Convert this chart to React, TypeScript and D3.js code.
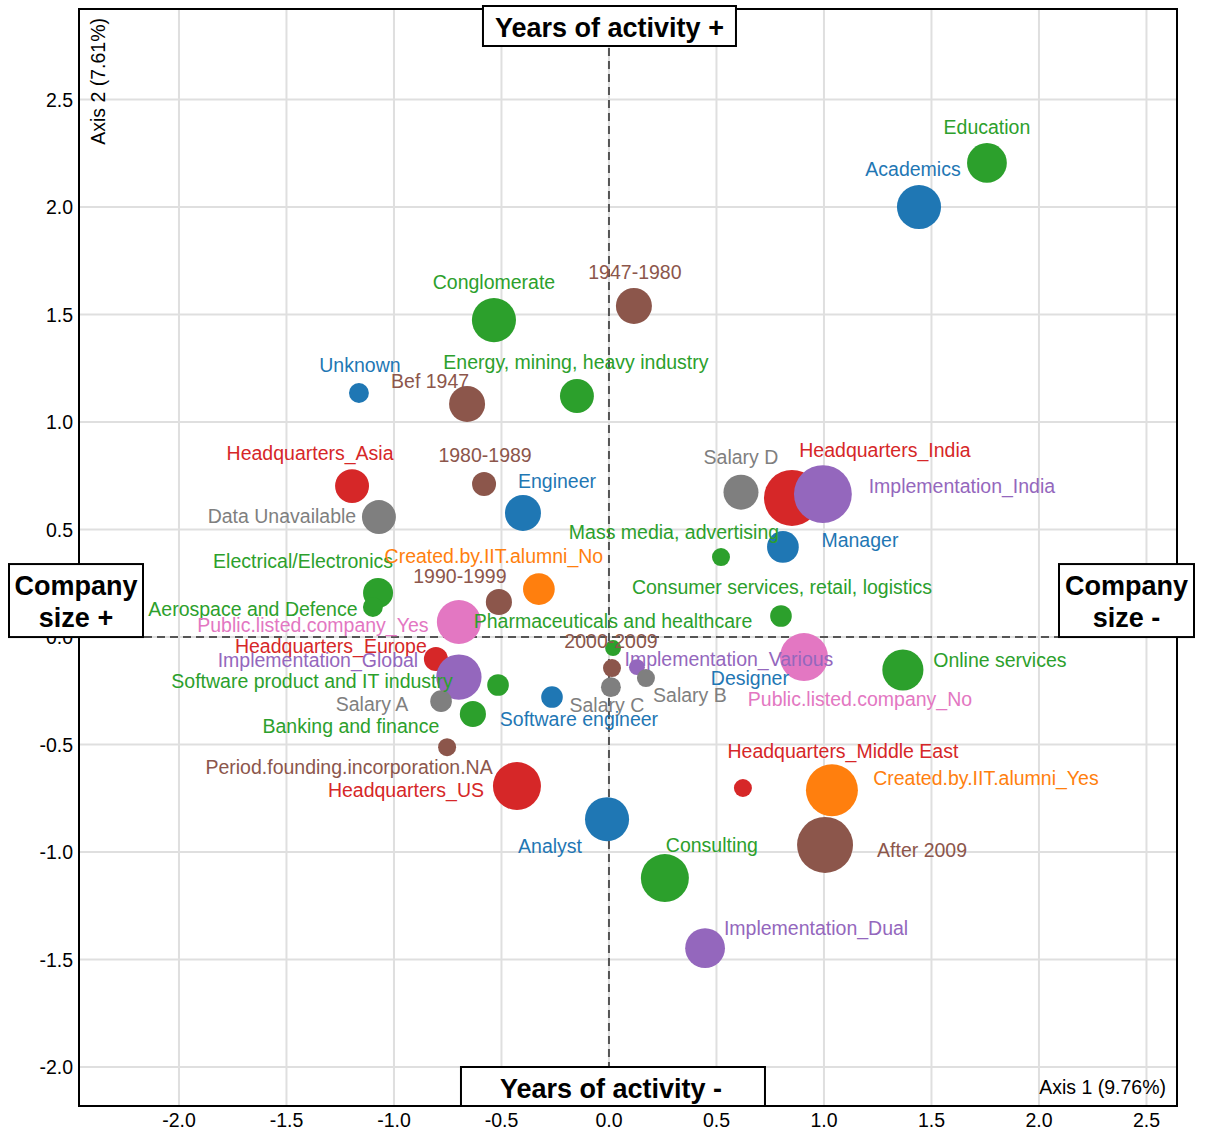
import React from "react";
import * as d3 from "d3";

// ---------- data ----------
const groupNames = ["Headquarters", "Implementation", "Salary", "Job role", "Industry", "Period founding", "Created by IIT alumni", "Public listed"];
const groupColors = ["#d62728", "#9467bd", "#7f7f7f", "#1f77b4", "#2ca02c", "#8c564b", "#ff7f0e", "#e377c2"];

const categories = [
  "Headquarters_Asia", "Headquarters_Europe", "Headquarters_India", "Headquarters_Middle East", "Headquarters_US",
  "Implementation_Global", "Implementation_Various", "Implementation_India", "Implementation_Dual",
  "Data Unavailable", "Salary A", "Salary B", "Salary C", "Salary D",
  "Unknown", "Engineer", "Software engineer", "Designer", "Manager", "Academics", "Analyst",
  "Education", "Conglomerate", "Energy, mining, heavy industry", "Electrical/Electronics", "Aerospace and Defence",
  "Pharmaceuticals and healthcare", "Software product and IT industry", "Banking and finance", "Mass media, advertising",
  "Consumer services, retail, logistics", "Online services", "Consulting",
  "Bef 1947", "1947-1980", "1980-1989", "1990-1999", "2000-2009", "After 2009", "Period.founding.incorporation.NA",
  "Created.by.IIT.alumni_No", "Created.by.IIT.alumni_Yes",
  "Public.listed.company_Yes", "Public.listed.company_No",
];
const categoryGroup = [
  0, 0, 0, 0, 0,
  1, 1, 1, 1,
  2, 2, 2, 2, 2,
  3, 3, 3, 3, 3, 3, 3,
  4, 4, 4, 4, 4, 4, 4, 4, 4, 4, 4, 4,
  5, 5, 5, 5, 5, 5, 5,
  6, 6,
  7, 7,
];
const axis1Coord = [
  -1.195, -0.805, 0.851, 0.623, -0.428,
  -0.698, 0.130, 0.995, 0.447,
  -1.070, -0.781, 0.172, 0.009, 0.614,
  -1.163, -0.400, -0.265, 0.888, 0.809, 1.442, -0.009,
  1.758, -0.535, -0.149, -1.074, -1.098, 0.019, -0.516, -0.633, 0.521, 0.800, 1.367, 0.260,
  -0.660, 0.116, -0.581, -0.512, 0.014, 1.005, -0.753,
  -0.326, 1.037,
  -0.698, 0.907,
];
const axis2Coord = [
  0.702, -0.102, 0.647, -0.702, -0.693,
  -0.186, -0.140, 0.665, -1.447,
  0.558, -0.298, -0.191, -0.233, 0.674,
  1.135, 0.577, -0.279, -0.116, 0.419, 2.000, -0.847,
  2.205, 1.474, 1.121, 0.205, 0.140, -0.051, -0.223, -0.358, 0.372, 0.098, -0.153, -1.121,
  1.084, 1.540, 0.712, 0.163, -0.144, -0.967, -0.512,
  0.223, -0.712,
  0.070, -0.093,
];
const frequency = [
  32, 16, 87, 9, 64,
  57, 7, 93, 44,
  32, 13, 9, 11, 34,
  11, 36, 13, 9, 28, 54, 54,
  44, 54, 32, 25, 11, 7, 13, 19, 9, 13, 47, 64,
  36, 36, 16, 19, 9, 87, 9,
  28, 75,
  54, 64,
];
// label placement relative to its point: [dx of text centre, dy of baseline] (px)
const labelOffsets = [
  [-42, -26], [-105, -6], [93, -41], [100, -30], [-111, 11],
  [-141, -10], [92, -1], [139, -1], [111, -13],
  [-97, 6], [-69, 10], [44, 24], [-4, 25], [0, -28],
  [1, -21], [34, -25], [27, 29], [-50, 23], [77, 0], [-6, -31], [-57, 34],
  [0, -29], [0, -31], [-1, -27], [-75, -25], [-120, 9], [0, -20], [-186, 3], [-122, 19], [-47, -18], [1, -22], [97, -3], [47, -26],
  [-37, -16], [1, -27], [1, -22], [-39, -19], [-1, -20], [97, 12], [-98, 27],
  [-45, -26], [154, -5],
  [-146, 10], [56, 49],
];
const tickValues = [-2.0, -1.5, -1.0, -0.5, 0.0, 0.5, 1.0, 1.5, 2.0, 2.5];
const axis1Title = "Axis 1 (9.76%)";
const axis2Title = "Axis 2 (7.61%)";
const topLabel = "Years of activity +";
const bottomLabel = "Years of activity -";
const leftLabel = ["Company", "size +"];
const rightLabel = ["Company", "size -"];

// ---------- layout ----------
const W = 1215;
const H = 1130;
const FONT = "'Liberation Sans', Arial, Helvetica, sans-serif";
const FS = 19.5;
const plotL = 79, plotR = 1177, plotT = 9, plotB = 1106;

export default function App() {
  const x = d3.scaleLinear().domain([-2.465, 2.642]).range([plotL, plotR]);
  const y = d3.scaleLinear().domain([2.921, -2.181]).range([plotT, plotB]);
  const r = d3.scaleSqrt().domain([0, 100]).range([0, 30]);
  const fmt = (v: number) => v.toFixed(1);

  const pts = categories.map((name, i) => ({
    name,
    cx: x(axis1Coord[i]),
    cy: y(axis2Coord[i]),
    rad: r(frequency[i]),
    color: groupColors[categoryGroup[i]],
    lx: labelOffsets[i][0],
    ly: labelOffsets[i][1],
  }));

  const x0 = x(0);
  const y0 = y(0);

  return (
    <svg
      width={W}
      height={H}
      style={{ position: "absolute", left: 0, top: 0, display: "block", background: "#fff" }}
      fontFamily={FONT}
    >
      <rect x={0} y={0} width={W} height={H} fill="#fff" />
      {/* grid */}
      <g stroke="#dfdfdf" strokeWidth={2}>
        {tickValues.map((t) => (
          <line key={"gx" + t} x1={x(t)} x2={x(t)} y1={plotT} y2={plotB} />
        ))}
        {tickValues.map((t) => (
          <line key={"gy" + t} x1={plotL} x2={plotR} y1={y(t)} y2={y(t)} />
        ))}
      </g>
      {/* zero lines */}
      <g stroke="#555" strokeWidth={2} strokeDasharray="8,5">
        <line x1={x0} x2={x0} y1={plotT} y2={plotB} />
        <line x1={plotL} x2={plotR} y1={y0} y2={y0} />
      </g>
      {/* frame */}
      <rect x={plotL} y={plotT} width={plotR - plotL} height={plotB - plotT} fill="none" stroke="#000" strokeWidth={2} />
      {/* ticks */}
      <g fontSize={FS} fill="#000">
        {tickValues.map((t) => (
          <text key={"tx" + t} x={x(t)} y={plotB + 21} textAnchor="middle">
            {fmt(t)}
          </text>
        ))}
        {tickValues.map((t) => (
          <text key={"ty" + t} x={plotL - 6} y={y(t) + 7} textAnchor="end">
            {fmt(t)}
          </text>
        ))}
      </g>
      {/* axis titles */}
      <text x={plotR - 11} y={plotB - 12} textAnchor="end" fontSize={FS} fill="#000">
        {axis1Title}
      </text>
      <text transform={`translate(${plotL + 26},${plotT + 9}) rotate(-90)`} textAnchor="end" fontSize={FS} fill="#000">
        {axis2Title}
      </text>
      {/* points */}
      <g>
        {pts.map((p) => (
          <circle key={"c" + p.name} cx={p.cx} cy={p.cy} r={p.rad} fill={p.color} />
        ))}
      </g>
      {/* labels */}
      <g fontSize={FS}>
        {pts.map((p) => (
          <text key={"l" + p.name} x={p.cx + p.lx} y={p.cy + p.ly} textAnchor="middle" fill={p.color}>
            {p.name}
          </text>
        ))}
      </g>
      {/* direction boxes */}
      <g fontWeight="bold" fontSize={27} fill="#000">
        <rect x={x0 - 126} y={plotT - 3} width={253} height={40} fill="#fff" stroke="#000" strokeWidth={2} />
        <text x={x0 + 0.5} y={plotT + 28} textAnchor="middle">{topLabel}</text>

        <rect x={x0 - 148} y={plotB - 39} width={304} height={39} fill="#fff" stroke="#000" strokeWidth={2} />
        <text x={x0 + 2} y={plotB - 8} textAnchor="middle">{bottomLabel}</text>

        <rect x={9} y={y0 - 73} width={134} height={73} fill="#fff" stroke="#000" strokeWidth={2} />
        <text x={76} y={y0 - 42} textAnchor="middle">{leftLabel[0]}</text>
        <text x={76} y={y0 - 10} textAnchor="middle">{leftLabel[1]}</text>

        <rect x={1059} y={y0 - 73} width={135} height={73} fill="#fff" stroke="#000" strokeWidth={2} />
        <text x={1126.5} y={y0 - 42} textAnchor="middle">{rightLabel[0]}</text>
        <text x={1126.5} y={y0 - 10} textAnchor="middle">{rightLabel[1]}</text>
      </g>
    </svg>
  );
}
